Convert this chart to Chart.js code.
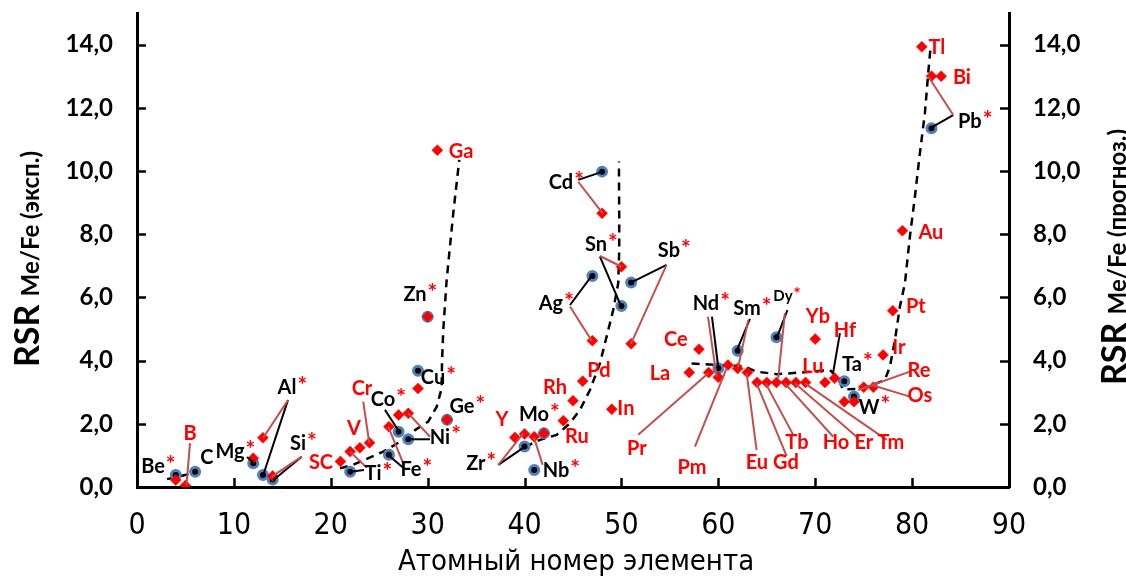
<!DOCTYPE html>
<html><head><meta charset="utf-8">
<script src="https://cdn.jsdelivr.net/npm/chart.js@4.4.1/dist/chart.umd.min.js"></script>
<style>html,body{margin:0;padding:0;background:#fff;}canvas{display:block;}</style>
</head><body>
<canvas id="c" width="1126" height="576"></canvas>
<script>
// ---- data (atomic number, RSR Me/Fe) ----
const expZ   = [4,6,12,13,14,22,26,27,28,29,30,32,40,41,42,47,48,50,51,60,62,66,73,74,82];
const expRSR = [0.38,0.48,0.75,0.38,0.24,0.48,1.02,1.75,1.51,3.68,5.39,2.13,1.28,0.54,1.70,6.68,9.98,5.73,6.47,3.76,4.31,4.74,3.35,2.86,11.35];

const progZ   = [4,5,12,13,14,21,22,23,24,26,27,28,29,30,31,32,39,40,41,42,44,45,46,47,48,49,50,51,57,58,59,60,61,62,63,64,65,66,67,68,69,70,71,72,73,74,75,76,77,78,79,81,82,83];
const progRSR = [0.22,0.05,0.91,1.56,0.35,0.81,1.12,1.24,1.40,1.91,2.28,2.33,3.12,5.39,10.66,2.13,1.57,1.68,1.59,1.70,2.10,2.73,3.35,4.63,8.66,2.46,6.97,4.53,3.62,4.36,3.62,3.47,3.86,3.75,3.62,3.31,3.31,3.31,3.31,3.31,3.31,4.68,3.31,3.44,2.70,2.70,3.16,3.16,4.18,5.58,8.11,13.93,13.00,13.00];

// dashed trend curves
const trend2X = [3.1, 6.3];
const trend2Y = [0.25, 0.47];
const trend4X = [20.95,22.29,25.42,27.14,28.69,30.06,30.93,31.44,31.48,31.61,31.96,32.64,33.26];
const trend4Y = [0.59,0.70,1.12,1.43,1.80,2.07,2.54,3.12,3.92,4.97,6.55,8.66,10.35];
const trend5X = [40.04,41.59,43.31,44.69,45.72,46.75,47.78,48.47,49.15,49.67,49.77,49.77,49.74];
const trend5Y = [1.27,1.49,1.65,2.02,2.44,3.07,3.91,4.76,5.60,6.45,7.50,8.55,10.30];
const trend6X = [57.24,59.82,62.57,63.95,66.02,68.42,71.52,72.35,72.86,74.27,75.30,76.33,77.19,77.71,78.23,78.74,79.26,79.77,80.29,80.80,81.32,81.66,81.91];
const trend6Y = [3.91,3.86,3.83,3.65,3.57,3.62,3.70,3.45,3.09,3.10,3.16,3.28,3.39,3.81,4.65,5.71,6.45,7.92,9.19,10.56,11.83,13.09,13.93];

const xTickValues = [0,10,20,30,40,50,60,70,80,90];
const yTickValues = [0,2,4,6,8,10,12,14];

// ---- annotations (data coordinates) ----
// [text, x, y, colour, asterisk, size]
const labels = [
 ['Be',1.65,0.66,'k',1],['B',5.47,1.68,'r',0],['C',7.22,0.92,'k',0],['Mg',9.6,1.11,'k',1],
 ['Al',15.48,3.16,'k',1],['Si',16.62,1.36,'k',1],['SC',18.99,0.76,'r',0],['Ti',24.36,0.41,'k',1],
 ['V',22.39,1.84,'r',0],['Cr',23.22,3.13,'r',0],['Co',25.39,2.78,'k',1],['Fe',28.28,0.54,'k',1],
 ['Ni',31.27,1.58,'k',1],['Cu',30.55,3.45,'k',1],['Zn',28.69,6.08,'k',1],['Ga',33.44,10.6,'r',0],
 ['Ge',33.54,2.56,'k',1],['Y',37.67,2.15,'r',0],['Zr',34.98,0.73,'k',1],['Nb',43.24,0.51,'k',1],
 ['Mo',40.97,2.28,'k',1],['Ru',45.41,1.61,'r',0],['Rh',43.14,3.16,'r',0],['Pd',47.68,3.67,'r',0],
 ['Ag',42.72,5.82,'k',1],['Cd',43.76,9.62,'k',1],['In',50.46,2.47,'r',0],['Sn',47.37,7.66,'k',1],
 ['Sb',54.9,7.47,'k',1],['Ce',55.62,4.68,'r',0],['La',53.97,3.58,'r',0],['Pr',51.6,1.23,'r',0],
 ['Pm',57.28,0.63,'r',0],['Nd',58.72,5.82,'k',1],['Sm',62.95,5.66,'k',1],['Dy',66.67,6.04,'k',1,15],
 ['Eu',63.98,0.76,'r',0],['Gd',66.97,0.76,'r',0],['Tb',68.11,1.42,'r',0],['Ho',72.14,1.42,'r',0],
 ['Er',75.03,1.42,'r',0],['Tm',77.81,1.42,'r',0],['Yb',70.28,5.38,'r',0],['Hf',73.07,4.94,'r',0],
 ['Lu',69.76,3.8,'r',0],['Ta',73.79,3.89,'k',1],['W',75.54,2.53,'k',1],['Ir',78.64,4.4,'r',0],
 ['Re',80.7,3.7,'r',0],['Os',80.8,2.88,'r',0],['Pt',80.39,5.7,'r',0],['Au',81.94,8.04,'r',0],
 ['Tl',82.56,13.92,'r',0],['Bi',85.14,12.97,'r',0],['Pb',85.96,11.55,'k',1]
];
// [x1,y1,x2,y2,colour]
const leaders = [
 [5.47,1.39,5.11,0.06,'r'],[11.35,0.95,12.07,0.76,'k'],
 [15.58,2.75,13.03,0.38,'k'],[15.58,2.75,13.03,1.56,'r'],
 [17.0,0.96,14.07,0.22,'k'],[17.0,0.96,13.9,0.33,'r'],
 [21.98,1.12,23.7,0.62,'r'],[21.98,0.48,23.43,0.54,'k'],
 [23.35,2.7,23.97,1.4,'r'],[25.59,2.44,27.07,1.75,'k'],
 [25.93,1.01,27.66,0.56,'k'],[25.93,1.91,27.48,0.75,'r'],
 [28.0,1.51,30.24,1.51,'k'],[28.0,2.33,30.24,1.59,'r'],
 [37.29,0.7,40.04,1.28,'k'],[37.29,0.7,39.87,1.7,'r'],[40.97,1.57,41.87,0.7,'r'],
 [44.69,5.76,46.93,6.68,'k'],[44.69,5.71,46.93,4.63,'r'],
 [45.54,9.72,48.06,9.98,'k'],[45.54,9.66,48.06,8.66,'r'],
 [47.78,7.29,49.95,5.73,'k'],[47.78,7.31,50.02,6.97,'r'],
 [54.66,7.03,50.98,6.47,'k'],[54.66,7.03,50.98,4.53,'r'],
 [51.73,1.65,58.96,3.6,'r'],[59.34,5.39,59.99,3.79,'k'],[58.93,5.39,59.82,3.49,'r'],
 [57.59,1.28,60.86,3.76,'r'],[63.26,5.32,61.89,4.31,'k'],[63.09,5.28,62.05,3.8,'r'],
 [67.13,5.6,66.02,4.71,'k'],[66.87,5.5,66.18,3.45,'r'],
 [63.95,1.17,62.92,3.6,'r'],[67.05,0.98,63.95,3.28,'r'],[67.73,1.65,64.88,3.28,'r'],
 [71.86,1.59,66.87,3.28,'r'],[74.27,1.59,67.9,3.28,'r'],[77.37,1.49,68.94,3.28,'r'],
 [72.55,4.87,71.86,3.64,'k'],[79.77,3.65,74.44,3.07,'r'],[79.77,2.86,75.82,3.23,'r'],
 [84.24,11.77,81.84,11.35,'k'],[84.24,11.77,81.66,13.0,'r']
];

const LATO = "Lato, 'Open Sans', sans-serif";
const NARROW = "'Liberation Sans Narrow', 'DejaVu Sans Condensed', 'Liberation Sans', sans-serif";
const pts = (xs, ys) => xs.map((x, i) => ({x: x, y: ys[i]}));
const trendSet = (xs, ys) => ({data: pts(xs, ys), showLine: true, borderColor: '#000', borderWidth: 2.5,
  borderDash: [8, 6], pointRadius: 0, fill: false, tension: 0, yAxisID: 'y'});
const fmt = v => Number(v).toFixed(1).replace('.', ',');

const deco = {
  id: 'deco',
  afterDatasetsDraw(chart) {
    const {ctx} = chart; const xs = chart.scales.x, ys = chart.scales.y;
    ctx.save();
    ctx.lineWidth = 2; ctx.lineCap = 'butt';
    leaders.forEach(l => {
      ctx.strokeStyle = l[4] === 'r' ? '#c0504d' : '#000';
      ctx.beginPath();
      ctx.moveTo(xs.getPixelForValue(l[0]), ys.getPixelForValue(l[1]));
      ctx.lineTo(xs.getPixelForValue(l[2]), ys.getPixelForValue(l[3]));
      ctx.stroke();
    });
    ctx.textBaseline = 'middle';
    labels.forEach(l => {
      const size = l[5] || 20;
      ctx.font = 'bold ' + size + 'px ' + LATO;
      const px = xs.getPixelForValue(l[1]), py = ys.getPixelForValue(l[2]);
      const w = ctx.measureText(l[0]).width;
      ctx.fillStyle = l[3] === 'r' ? '#ff0000' : '#000';
      ctx.textAlign = 'center';
      ctx.fillText(l[0], px, py);
      if (l[4]) {
        ctx.fillStyle = '#ff0000'; ctx.textAlign = 'left';
        ctx.font = 'bold ' + Math.round(size * 1.15) + 'px ' + LATO;
        ctx.fillText('*', px + w / 2 + 1, py - size * 0.1);
      }
    });
    ctx.restore();
  },
  afterDraw(chart) {
    const {ctx, chartArea: a} = chart;
    const xs = chart.scales.x, ys = chart.scales.y, y2 = chart.scales.y2;
    ctx.save();
    ctx.strokeStyle = '#000'; ctx.lineWidth = 2.5;
    xTickValues.forEach(v => { const p = Math.round(xs.getPixelForValue(v)) + 0.5;
      ctx.beginPath(); ctx.moveTo(p, a.bottom); ctx.lineTo(p, a.bottom - 9); ctx.stroke(); });
    yTickValues.forEach(v => { const p = Math.round(ys.getPixelForValue(v)) + 0.5;
      ctx.beginPath(); ctx.moveTo(a.left, p); ctx.lineTo(a.left + 9, p); ctx.stroke();
      ctx.beginPath(); ctx.moveTo(a.right, p); ctx.lineTo(a.right - 9, p); ctx.stroke(); });
    // y tick labels (both axes)
    ctx.fillStyle = '#000'; ctx.textBaseline = 'middle';
    ctx.font = 'bold 24px ' + LATO;
    yTickValues.forEach(v => {
      ctx.textAlign = 'right'; ctx.fillText(fmt(v), a.left - 24, ys.getPixelForValue(v));
      ctx.textAlign = 'left'; ctx.fillText(fmt(v), a.right + 24, y2.getPixelForValue(v));
    });
    // axis titles
    const drawTitle = (cx, cy, small) => {
      ctx.save(); ctx.translate(cx, cy); ctx.rotate(-Math.PI / 2);
      ctx.fillStyle = '#000'; ctx.textBaseline = 'alphabetic'; ctx.textAlign = 'left';
      ctx.font = 'bold 34px ' + LATO; const w1 = ctx.measureText('RSR ').width;
      ctx.font = 'bold 24px ' + LATO; const w2 = ctx.measureText(small).width;
      let sx = -(w1 + w2) / 2;
      ctx.font = 'bold 34px ' + LATO; ctx.fillText('RSR ', sx, 12);
      ctx.font = 'bold 24px ' + LATO; ctx.fillText(small, sx + w1, 12);
      ctx.restore();
    };
    drawTitle(27, 259, 'Me/Fe (эксп.)');
    drawTitle(1114, 257, 'Me/Fe (прогноз.)');
    ctx.font = '29px ' + NARROW; ctx.fillStyle = '#000';
    ctx.textAlign = 'center'; ctx.textBaseline = 'middle';
    ctx.fillText('Атомный номер элемента', 576, 562);
    ctx.restore();
  }
};

new Chart(document.getElementById('c'), {
  type: 'scatter',
  data: { datasets: [
    {data: pts(progZ, progRSR), pointStyle: 'rectRot', pointRadius: 5.5, pointBackgroundColor: '#ff0000',
     pointBorderColor: '#ff0000', pointBorderWidth: 0.5, yAxisID: 'y2'},
    {data: pts(expZ, expRSR), pointStyle: 'circle', pointRadius: 4.5, pointBackgroundColor: '#000',
     pointBorderColor: '#4f81bd', pointBorderWidth: 3, yAxisID: 'y'},
    trendSet(trend2X, trend2Y), trendSet(trend4X, trend4Y), trendSet(trend5X, trend5Y), trendSet(trend6X, trend6Y)
  ]},
  options: {
    responsive: false, animation: false, events: [],
    layout: {padding: {top: 13, left: 0, right: 0, bottom: 0}},
    plugins: {legend: {display: false}, tooltip: {enabled: false}},
    scales: {
      x: {type: 'linear', min: 0, max: 90, afterFit: s => { s.height = 89; },
        afterBuildTicks: s => { s.ticks = xTickValues.map(v => ({value: v})); },
        ticks: {stepSize: 10, padding: 21, color: '#000', font: {family: NARROW, size: 30}, maxRotation: 0},
        grid: {display: false, drawTicks: false}, border: {display: true, color: '#000', width: 3}},
      y: {type: 'linear', position: 'left', min: 0, max: 15, afterFit: s => { s.width = 137; },
        ticks: {display: false},
        grid: {display: false, drawTicks: false}, border: {display: true, color: '#000', width: 3}},
      y2: {type: 'linear', position: 'right', min: 0, max: 15, afterFit: s => { s.width = 117; },
        ticks: {display: false},
        grid: {display: false, drawTicks: false}, border: {display: true, color: '#000', width: 3}}
    }
  },
  plugins: [deco]
});
</script>
</body></html>
